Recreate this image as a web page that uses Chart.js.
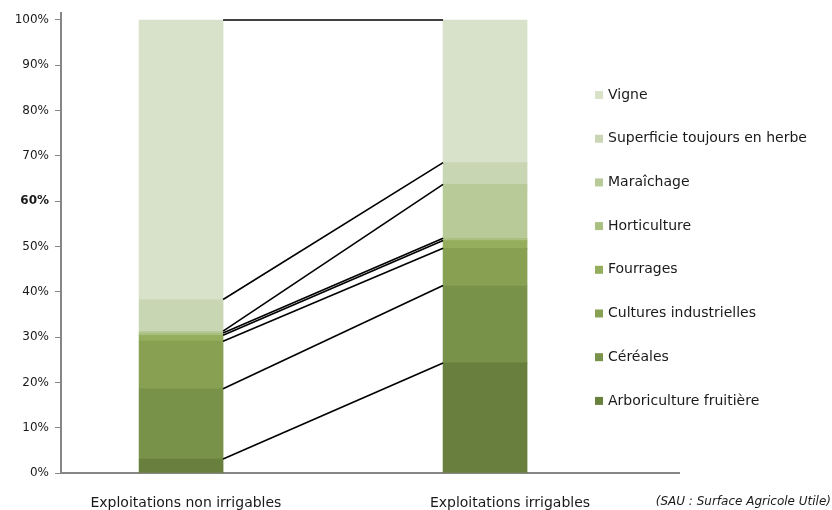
<!DOCTYPE html>
<html lang="fr">
<head>
  <meta charset="UTF-8" />
  <title>SAU par type d'exploitation</title>
  <script src="https://cdn.jsdelivr.net/npm/chart.js"></script>
  <style>
    html, body { margin: 0; padding: 0; background: #fff; }
    #wrap { width: 832px; height: 510px; position: relative; }
  </style>
</head>
<body>
<div id="wrap"><canvas id="chart"></canvas></div>

<script>
  // Categories (x) and crop types (bottom to top of each stack)
  const categories = ['Exploitations non irrigables', 'Exploitations irrigables'];
  const cropTypes = [
    'Arboriculture fruitière',
    'Céréales',
    'Cultures industrielles',
    'Fourrages',
    'Horticulture',
    'Maraîchage',
    'Superficie toujours en herbe',
    'Vigne'
  ];
  // share of SAU in %, [non irrigables, irrigables]
  const arboriculture = [3.1, 24.3];
  const cereales      = [15.5, 17.1];
  const culturesInd   = [10.5, 8.2];
  const fourrages     = [1.3, 1.7];
  const horticulture  = [0.5, 0.5];
  const maraichage    = [0.4, 11.9];
  const superficie    = [7.0, 4.8];
  const vigne         = [61.7, 31.5];
  const yTicks = [0, 10, 20, 30, 40, 50, 60, 70, 80, 90, 100];
  const note = '(SAU : Surface Agricole Utile)';

  const seriesValues = [arboriculture, cereales, culturesInd, fourrages, horticulture, maraichage, superficie, vigne];
  const colors = ['#697f3d', '#799249', '#87a052', '#94ae5d', '#aac082', '#b9ca99', '#c9d6b3', '#d8e2ca'];

  Chart.defaults.font.family = '"DejaVu Sans", Verdana, sans-serif';
  Chart.defaults.color = '#1a1a1a';

  // black lines joining the top of every segment between the two bars
  const seriesLines = {
    id: 'seriesLines',
    afterDatasetsDraw(chart) {
      const ctx = chart.ctx;
      ctx.save();
      ctx.strokeStyle = '#000';
      ctx.lineWidth = 1.6;
      chart.data.datasets.forEach((ds, i) => {
        const bars = chart.getDatasetMeta(i).data;
        const a = bars[0], b = bars[1];
        ctx.beginPath();
        ctx.moveTo(a.x + a.width / 2, a.y);
        ctx.lineTo(b.x - b.width / 2, b.y);
        ctx.stroke();
      });
      ctx.restore();
    }
  };

  // legend sitting over the right part of the plot, like the original
  const sideLegend = {
    id: 'sideLegend',
    afterDraw(chart) {
      const ctx = chart.ctx;
      const x = 595, top = 95, step = 43.7;
      ctx.save();
      ctx.font = '14px "DejaVu Sans", Verdana, sans-serif';
      ctx.textBaseline = 'middle';
      const n = chart.data.datasets.length;
      for (let k = 0; k < n; k++) {
        const ds = chart.data.datasets[n - 1 - k];
        const y = top + k * step;
        ctx.fillStyle = ds.backgroundColor;
        ctx.fillRect(x, y - 4, 8, 8);
        ctx.fillStyle = '#1a1a1a';
        ctx.fillText(ds.label, x + 13, y);
      }
      ctx.font = 'italic 12px "DejaVu Sans", Verdana, sans-serif';
      ctx.textAlign = 'right';
      ctx.fillText(note, 831, 502);
      ctx.restore();
    }
  };

  new Chart(document.getElementById('chart'), {
    type: 'bar',
    data: {
      datasets: cropTypes.map((name, i) => ({
        label: name,
        data: seriesValues[i].map((v, j) => ({ x: j, y: v })),
        backgroundColor: colors[i],
        borderWidth: 0,
        barThickness: 84
      }))
    },
    options: {
      responsive: true,
      maintainAspectRatio: false,
      animation: false,
      layout: { padding: { top: 12, right: 153, left: 0, bottom: 0 } },
      plugins: {
        legend: { display: false },
        tooltip: { enabled: false }
      },
      scales: {
        x: {
          type: 'linear',
          stacked: true,
          offset: false,
          min: -0.395,
          max: 1.638,
          afterBuildTicks: s => { s.ticks = [0.016, 1.082].map(v => ({ value: v })); },
          afterFit: s => { s.height = 37; },
          grid: { display: false, offset: false },
          border: { color: '#868686', width: 2 },
          ticks: {
            autoSkip: false,
            maxRotation: 0,
            padding: 14,
            font: { size: 14 },
            callback: (v, i) => categories[i]
          }
        },
        y: {
          stacked: true,
          min: 0,
          max: 101.5,
          afterBuildTicks: s => { s.ticks = yTicks.map(v => ({ value: v })); },
          afterFit: s => { s.width = 61; },
          grid: { drawOnChartArea: false, color: '#868686', tickLength: 6 },
          border: { color: '#868686', width: 2 },
          ticks: {
            padding: 6,
            font: ctx => ({ size: 12, weight: ctx.tick && ctx.tick.value === 60 ? 'bold' : 'normal' }),
            callback: v => v + '%'
          }
        }
      }
    },
    plugins: [seriesLines, sideLegend]
  });
</script>
</body>
</html>
